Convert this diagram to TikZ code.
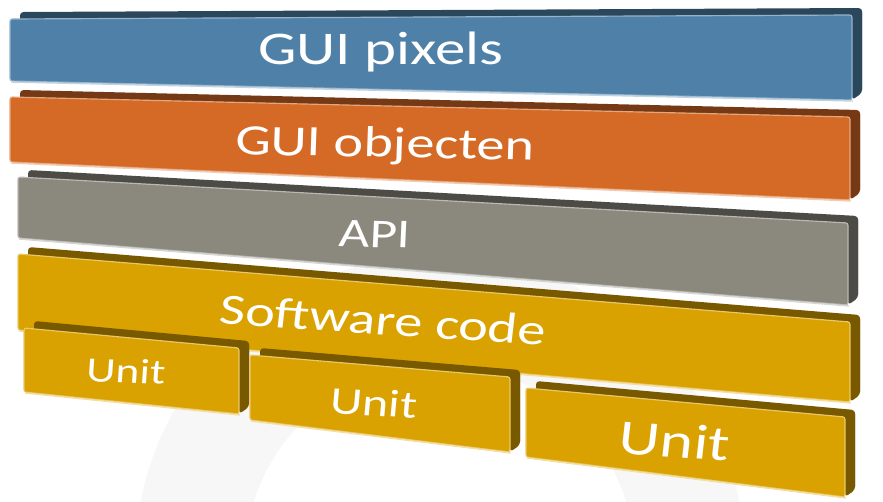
\documentclass[tikz,border=0pt]{standalone}
\usepackage{fontspec}
\setmainfont{Carlito}
\definecolor{layPixels}{RGB}{79,129,168}
\definecolor{layObjects}{RGB}{212,106,38}
\definecolor{layApi}{RGB}{139,137,126}
\definecolor{layCode}{RGB}{218,162,0}
\usetikzlibrary{calc,positioning}

% one slab: colour, then front corners TL TR BR BL (pixel coordinates)
\newcommand{\layerbox}[5]{%
  \fill[#1!55!black, rounded corners=3pt, shift={(10,-7)}] #2 -- #3 -- #4 -- #5 -- cycle;
  \fill[#1!55!black, rounded corners=3pt] #3 -- ++(10,-7) -- ($#4+(10,-7)$) -- #4 -- cycle;
  \fill[#1, draw=#1!60!white, line width=1pt, rounded corners=2pt] #2 -- #3 -- #4 -- #5 -- cycle;
  \draw[#1!35!white, line width=1.2pt] ($#5+(1,1)$) -- ($#4+(1,1)$);
}

\tikzset{
  laylabel/.style={text=white, inner sep=0pt, xscale=1.3},
}

\begin{document}
\begin{tikzpicture}[x=0.03cm, y=-0.03cm]
    \useasboundingbox (0,0) rectangle (883,502);
    % faint watermark ring
    \draw[black!3, line width=110*0.03cm] (440,560) circle (250);

    \layerbox{layPixels}{(10,19)}{(852,15)}{(852,100)}{(10,81)}
    \layerbox{layObjects}{(10,97)}{(850,117)}{(850,200)}{(10,162)}
    \layerbox{layApi}{(18,177)}{(848,223)}{(848,305)}{(18,238)}
    \layerbox{layCode}{(18,254)}{(850,322)}{(850,402)}{(18,330)}
    \layerbox{layCode}{(24,328)}{(239,348)}{(239,414)}{(24,392)}
    \layerbox{layCode}{(250,355)}{(510,377)}{(510,452)}{(250,420)}
    \layerbox{layCode}{(526,388)}{(845,417)}{(845,497)}{(526,457)}

    \node[laylabel, font=\fontsize{40}{44}\selectfont] (pixels) at (381,52) {GUI pixels};
    \node[laylabel, font=\fontsize{37}{40}\selectfont, rotate=-1.5] (objecten) at (385,146) {GUI objecten};
    \node[laylabel, font=\fontsize{35}{40}\selectfont, rotate=-2] (api) at (375,234) {API};
    \node[laylabel, font=\fontsize{37}{40}\selectfont, rotate=-5] (code) at (383,320) {Software code};
    \node[laylabel, font=\fontsize{30}{34}\selectfont, rotate=-3] (unitA) at (126,371) {Unit};
    \node[laylabel, font=\fontsize{33}{38}\selectfont, rotate=-4] (unitB) at (374,403) {Unit};
    \node[laylabel, font=\fontsize{42}{46}\selectfont, rotate=-5] (unitC) at (675,441) {Unit};
\end{tikzpicture}
\end{document}
